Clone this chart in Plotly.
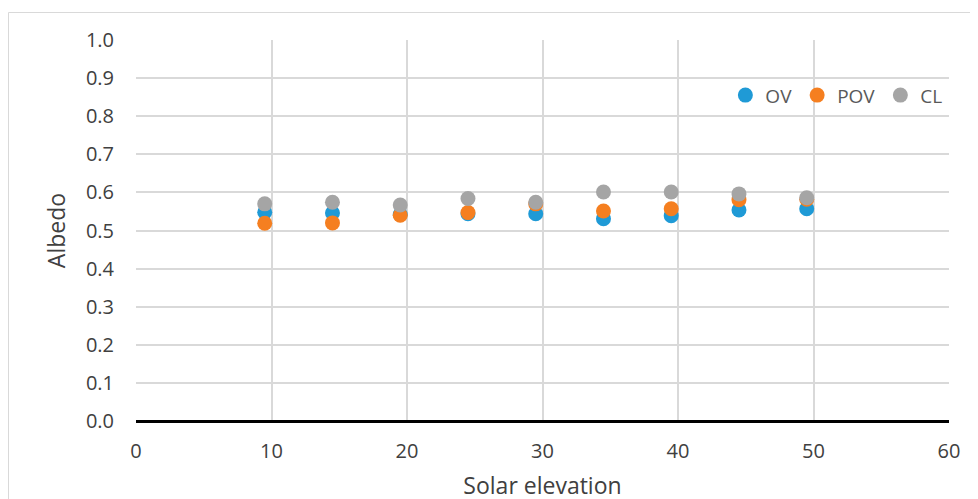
import plotly.graph_objects as go

elev = [9.5, 14.5, 19.5, 24.5, 29.5, 34.5, 39.5, 44.5, 49.5]
ov = [0.548, 0.546, 0.542, 0.544, 0.544, 0.531, 0.539, 0.554, 0.557]
pov = [0.519, 0.520, 0.540, 0.547, 0.570, 0.551, 0.557, 0.581, 0.582]
cl = [0.570, 0.574, 0.567, 0.584, 0.574, 0.601, 0.601, 0.596, 0.586]

font = "Open Sans, sans-serif"
fig = go.Figure()
for name, vals, col in [("OV", ov, "#1f9ad6"), ("POV", pov, "#f57f20"), ("CL", cl, "#a5a5a5")]:
    fig.add_trace(go.Scatter(x=elev, y=vals, mode="markers", name=name,
                             marker=dict(color=col, size=15, line=dict(width=0))))

W, H = 978, 499
ml, mr, mt, mb = 128, 37, 32, 86
fig.update_layout(
    width=W, height=H,
    margin=dict(l=ml, r=mr, t=mt, b=mb, autoexpand=False),
    paper_bgcolor="white", plot_bgcolor="white",
    font=dict(family=font, size=20, color="#404040"),
    showlegend=True,
    legend=dict(orientation="h", x=0.998, xanchor="right", y=0.855, yanchor="middle",
                font=dict(size=19, color="#595959"), itemwidth=30,
                bgcolor="rgba(0,0,0,0)"),
    xaxis=dict(range=[0, 60], dtick=10, showgrid=True, gridcolor="#d9d9d9", gridwidth=1.5,
               zeroline=False, showline=False, ticks="", automargin=False,
               ticklabelstandoff=16,
               title=dict(text="Solar elevation", font=dict(size=23, color="#404040"), standoff=14),
               tickfont=dict(size=20, color="#404040")),
    yaxis=dict(range=[0, 1.0], dtick=0.1, tickformat=".1f", showgrid=True, gridcolor="#d9d9d9",
               gridwidth=1.5, zeroline=True, zerolinecolor="black", zerolinewidth=3,
               showline=False, ticks="", automargin=False, ticklabelstandoff=21,
               title=dict(text="Albedo", font=dict(size=23, color="#404040"), standoff=13),
               tickfont=dict(size=20, color="#404040")),
)
pw = W - ml - mr
ph = H - mt - mb
fig.add_shape(type="rect", xref="paper", yref="paper",
              x0=(-ml + 0.5) / pw, x1=(pw + mr + 5) / pw,
              y0=(-mb - 5) / ph, y1=(ph + mt - 4.5) / ph,
              line=dict(color="#d9d9d9", width=1), layer="below")
fig.write_html("out.html")
